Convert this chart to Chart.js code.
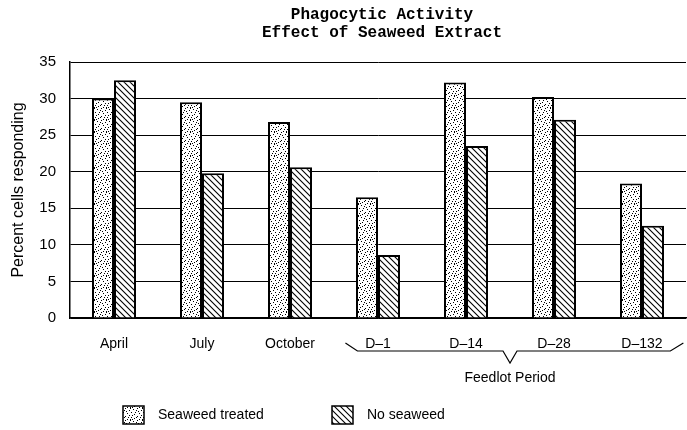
<!DOCTYPE html>
<html>
<head>
<meta charset="utf-8">
<script src="https://cdn.jsdelivr.net/npm/chart.js@4/dist/chart.umd.min.js"></script>
<style>
    html, body { margin: 0; padding: 0; background: #fff; }
    #chart { display: block; }
</style>
</head>
<body>
<canvas id="chart" width="687" height="430"></canvas>
<script>
const categories = ['April', 'July', 'October', 'D\u20131', 'D\u201314', 'D\u201328', 'D\u2013132'];
const seaweedTreated = [30.0, 29.5, 26.8, 16.5, 32.2, 30.2, 18.4];
const noSeaweed = [32.5, 19.8, 20.6, 8.6, 23.5, 27.1, 12.6];
const titleLines = ['Phagocytic Activity', 'Effect of Seaweed Extract'];
const yTitle = 'Percent cells responding';
const groupLabel = 'Feedlot Period';
const groupFrom = 3; // D-1 .. D-132 are the feedlot days
const groupTo = 6;

feedlot = (function () {
    let obj = {};

    // fixed dot positions for the stipple tile
    const dots = [[1, 1], [5, 0], [9, 2], [3, 4], [7, 5], [11, 4], [0, 7], [5, 8],
        [9, 7], [2, 10], [7, 11], [11, 9], [4, 2], [10, 11], [2, 6], [8, 9],
        [6, 3], [0, 11], [10, 0], [4, 9]];

    function stipple(ctx) {
        const tile = document.createElement('canvas');
        tile.width = 12;
        tile.height = 12;
        const t = tile.getContext('2d');
        t.fillStyle = '#fff';
        t.fillRect(0, 0, 12, 12);
        t.fillStyle = '#000';
        dots.forEach(d => t.fillRect(d[0], d[1], 1, 1));
        return ctx.createPattern(tile, 'repeat');
    }

    function hatch(ctx) {
        const s = 6;
        const tile = document.createElement('canvas');
        tile.width = s;
        tile.height = s;
        const t = tile.getContext('2d');
        t.fillStyle = '#fff';
        t.fillRect(0, 0, s, s);
        t.strokeStyle = '#000';
        t.lineWidth = 1.1;
        t.beginPath();
        t.moveTo(-1, -1);
        t.lineTo(s + 1, s + 1);
        t.moveTo(-1, s - 1);
        t.lineTo(1, s + 1);
        t.moveTo(s - 1, -1);
        t.lineTo(s + 1, 1);
        t.stroke();
        return ctx.createPattern(tile, 'repeat');
    }

    const extras = {
        id: 'extras',
        afterDraw(chart) {
            const ctx = chart.ctx;
            const area = chart.chartArea;
            const x = chart.scales.x;
            const step = x.getPixelForValue(1) - x.getPixelForValue(0);
            ctx.save();
            ctx.fillStyle = '#000';
            ctx.strokeStyle = '#000';

            // title
            ctx.font = 'bold 16px "Liberation Mono", monospace';
            ctx.textAlign = 'center';
            ctx.textBaseline = 'middle';
            const cx = (area.left + area.right) / 2 + 4;
            titleLines.forEach((line, i) => ctx.fillText(line, cx, 15 + i * 18));

            // brace under the feedlot days
            const left = x.getPixelForValue(groupFrom) - step * 0.37;
            const right = x.getPixelForValue(groupTo) + step * 0.47;
            const mid = (x.getPixelForValue(groupFrom + 1) + x.getPixelForValue(groupFrom + 2)) / 2;
            const top = area.bottom + 25;
            const bar = area.bottom + 33;
            const tip = area.bottom + 45;
            ctx.lineWidth = 1.2;
            ctx.beginPath();
            ctx.moveTo(left, top);
            ctx.lineTo(left + 12, bar);
            ctx.lineTo(mid - 7, bar);
            ctx.lineTo(mid, tip);
            ctx.lineTo(mid + 7, bar);
            ctx.lineTo(right - 13, bar);
            ctx.lineTo(right, top);
            ctx.stroke();

            ctx.font = '14px "Liberation Sans", Arial, sans-serif';
            ctx.fillText(groupLabel, mid, area.bottom + 60);

            // legend
            ctx.textAlign = 'left';
            const boxes = [123, 332];
            chart.data.datasets.forEach((ds, i) => {
                const bx = boxes[i];
                ctx.fillStyle = ds.backgroundColor;
                ctx.fillRect(bx, 406, 21, 18);
                ctx.lineWidth = 1.5;
                ctx.strokeRect(bx, 406, 21, 18);
                ctx.fillStyle = '#000';
                ctx.fillText(ds.label, bx + 35, 415);
            });
            ctx.restore();
        }
    };

    obj.make = function () {
        const canvas = document.getElementById('chart');
        const ctx = canvas.getContext('2d');
        const tickFont = {family: '"Liberation Sans", Arial, sans-serif', size: 14};

        const data = {
            labels: categories,
            datasets: [
                {
                    label: 'Seaweed treated',
                    data: seaweedTreated,
                    backgroundColor: stipple(ctx),
                    borderColor: '#000',
                    borderWidth: 2,
                },
                {
                    label: 'No seaweed',
                    data: noSeaweed,
                    backgroundColor: hatch(ctx),
                    borderColor: '#000',
                    borderWidth: 2,
                }
            ]
        };

        new Chart(ctx, {
            type: 'bar',
            data: data,
            options: {
                responsive: false,
                animation: false,
                categoryPercentage: 0.5,
                barPercentage: 1.0,
                layout: {padding: {top: 62, right: 1, left: 0, bottom: 0}},
                plugins: {
                    legend: {display: false},
                    title: {display: false},
                    tooltip: {enabled: false},
                },
                scales: {
                    x: {
                        grid: {display: false},
                        border: {color: '#000', width: 1.5},
                        ticks: {color: '#000', font: tickFont, padding: 10, maxRotation: 0},
                        afterFit(scale) {
                            scale.height = 112;
                        },
                    },
                    y: {
                        min: 0,
                        max: 35,
                        ticks: {stepSize: 5, color: '#000', font: {family: tickFont.family, size: 15}, padding: 14},
                        grid: {color: '#000', lineWidth: 1, drawTicks: false},
                        border: {color: '#000', width: 1.5},
                        title: {
                            display: true,
                            text: yTitle,
                            color: '#000',
                            font: {family: tickFont.family, size: 16},
                            padding: {top: 9, bottom: 0},
                        },
                        afterFit(scale) {
                            scale.width = 70;
                        },
                    }
                }
            },
            plugins: [extras]
        });
    };

    return obj;
}());

feedlot.make();
</script>
</body>
</html>
